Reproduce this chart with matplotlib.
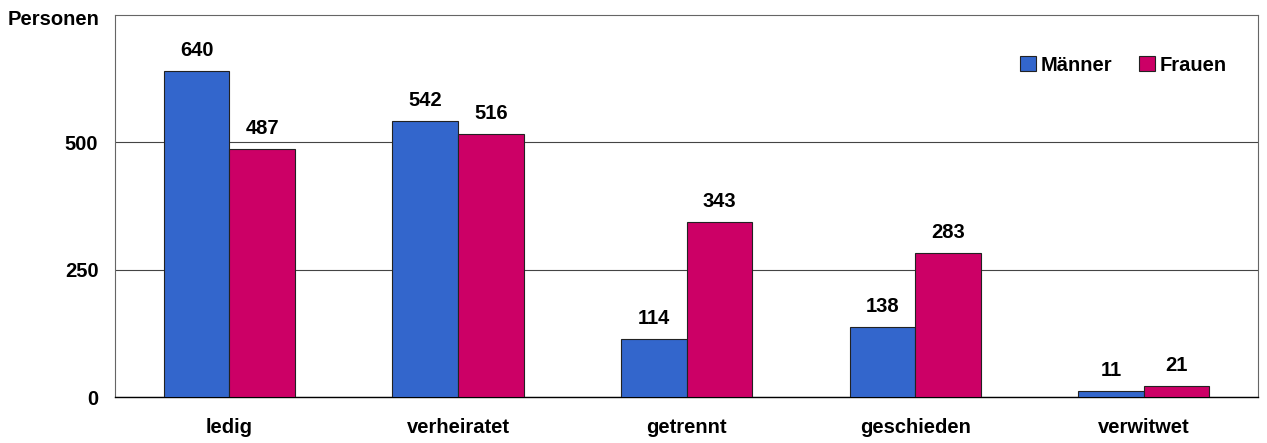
import matplotlib.pyplot as plt
import numpy as np

plt.rcParams['font.family'] = ['Liberation Sans', 'DejaVu Sans']
plt.rcParams['font.weight'] = 'bold'

kategorien = ["ledig", "verheiratet", "getrennt", "geschieden", "verwitwet"]
maenner = [640, 542, 114, 138, 11]
frauen = [487, 516, 343, 283, 21]
y_ticks = [0, 250, 500]

BLAU = "#3366CC"
ROT = "#CC0066"
FS = 14.5

fig = plt.figure(figsize=(12.67, 4.43), dpi=100)
ax = fig.add_axes([0.0908, 0.1038, 0.9021, 0.8622])

x = np.arange(len(kategorien))
w = 0.287
b1 = ax.bar(x - w / 2, maenner, w, color=BLAU, edgecolor="#222222", linewidth=0.8, label="Männer", zorder=3)
b2 = ax.bar(x + w / 2, frauen, w, color=ROT, edgecolor="#222222", linewidth=0.8, label="Frauen", zorder=3)

for bars, vals in [(b1, maenner), (b2, frauen)]:
    for r, v in zip(bars, vals):
        ax.annotate(str(v), (r.get_x() + r.get_width() / 2, v), xytext=(0, 8),
                    textcoords="offset points", ha="center", va="bottom",
                    fontsize=FS, fontweight="bold")

ax.set_xlim(-0.5, len(kategorien) - 0.5)
ax.set_ylim(0, 750)
ax.set_yticks(y_ticks)
ax.set_yticklabels([str(t) for t in y_ticks], fontsize=FS, fontweight="bold")
ax.set_xticks(x)
ax.set_xticklabels(kategorien, fontsize=FS, fontweight="bold")
ax.tick_params(axis="both", length=0)
ax.tick_params(axis="y", pad=12)
ax.tick_params(axis="x", pad=15)
ax.yaxis.grid(True, color="#444444", linewidth=0.8, zorder=0)

for s in ["top", "right", "left"]:
    ax.spines[s].set_color("#666666")
    ax.spines[s].set_linewidth(0.8)
ax.spines["bottom"].set_color("#000000")
ax.spines["bottom"].set_linewidth(1.0)

fig.text(0.006, 0.957, "Personen", fontsize=FS, fontweight="bold", ha="left", va="center")

leg = ax.legend(loc="upper right", bbox_to_anchor=(0.98, 0.915), ncol=2, frameon=False,
                fontsize=FS, handlelength=0.8, handleheight=0.8, handletextpad=0.25,
                columnspacing=1.3, borderaxespad=0)

fig.savefig("out.png", dpi=100)
